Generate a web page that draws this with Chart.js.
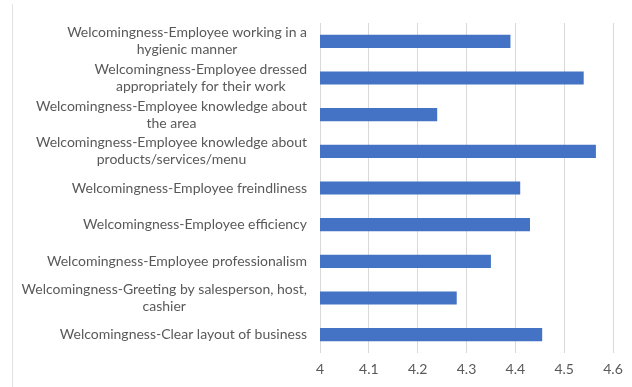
<!DOCTYPE html>
<html>
<head>
<meta charset="utf-8">
<script src="https://cdn.jsdelivr.net/npm/chart.js@4"></script>
<style>
  html, body { margin: 0; padding: 0; background: #fff; }
  #wrap { position: relative; width: 632px; height: 387px; }
  #wrap canvas { display: block; }
  #frame { position: absolute; left: 12px; top: 4px; bottom: 0; border-left: 1px solid #e2e2e2; }
</style>
</head>
<body>
<div id="wrap">
  <div id="frame"></div>
  <canvas id="scoreChart" width="632" height="387"></canvas>
</div>
<script>
// Category labels, one array entry per line of text
const categories = [
  ["Welcomingness-Employee working in a", "hygienic manner"],
  ["Welcomingness-Employee dressed", "appropriately for their work"],
  ["Welcomingness-Employee knowledge about", "the area"],
  ["Welcomingness-Employee knowledge about", "products/services/menu"],
  ["Welcomingness-Employee freindliness"],
  ["Welcomingness-Employee efficiency"],
  ["Welcomingness-Employee professionalism"],
  ["Welcomingness-Greeting by salesperson, host,", "cashier"],
  ["Welcomingness-Clear layout of business"]
];
const scores = [4.39, 4.54, 4.24, 4.565, 4.41, 4.43, 4.35, 4.28, 4.455];
const xMin = 4;
const xMax = 4.6;
const xStep = 0.1;

const labelFont = "14px Lato, 'Liberation Sans', sans-serif";
const labelColor = "#595959";
const ctx = document.getElementById("scoreChart");

// Draws each category label as a right-aligned block with centred lines
const blockLabels = {
  id: "blockLabels",
  afterDraw(chart) {
    const y = chart.scales.y;
    const c = chart.ctx;
    const right = chart.chartArea.left - 13;
    const lineH = 17;
    c.save();
    c.font = labelFont;
    c.fillStyle = labelColor;
    c.textAlign = "center";
    c.textBaseline = "middle";
    categories.forEach((lines, i) => {
      const widest = Math.max(...lines.map(l => c.measureText(l).width));
      const cx = right - widest / 2;
      const cy = y.getPixelForTick(i);
      const top = cy - (lines.length - 1) * lineH / 2;
      lines.forEach((l, k) => c.fillText(l, cx, top + k * lineH));
    });
    c.restore();
  }
};

new Chart(ctx, {
  type: "bar",
  data: {
    labels: categories,
    datasets: [
      {
        label: "Score",
        data: scores,
        backgroundColor: "#4472c4",
        borderWidth: 0,
        barPercentage: 0.36,
        categoryPercentage: 1
      }
    ]
  },
  options: {
    indexAxis: "y",
    responsive: false,
    animation: false,
    layout: { padding: { left: 0, top: 23, right: 19, bottom: 7 } },
    plugins: {
      legend: { display: false },
      tooltip: { enabled: false }
    },
    scales: {
      x: {
        min: xMin,
        max: xMax,
        grid: { color: "#d9d9d9", drawTicks: false },
        border: { display: false },
        ticks: {
          stepSize: xStep,
          padding: 8,
          color: labelColor,
          font: { family: "Lato, 'Liberation Sans', sans-serif", size: 14 },
          callback: v => +v.toFixed(1)
        },
        afterFit(scale) { scale.height = 27; }
      },
      y: {
        grid: { display: false },
        border: { display: false },
        ticks: { display: false },
        afterFit(scale) { scale.width = 320; }
      }
    }
  },
  plugins: [blockLabels]
});
</script>
</body>
</html>
